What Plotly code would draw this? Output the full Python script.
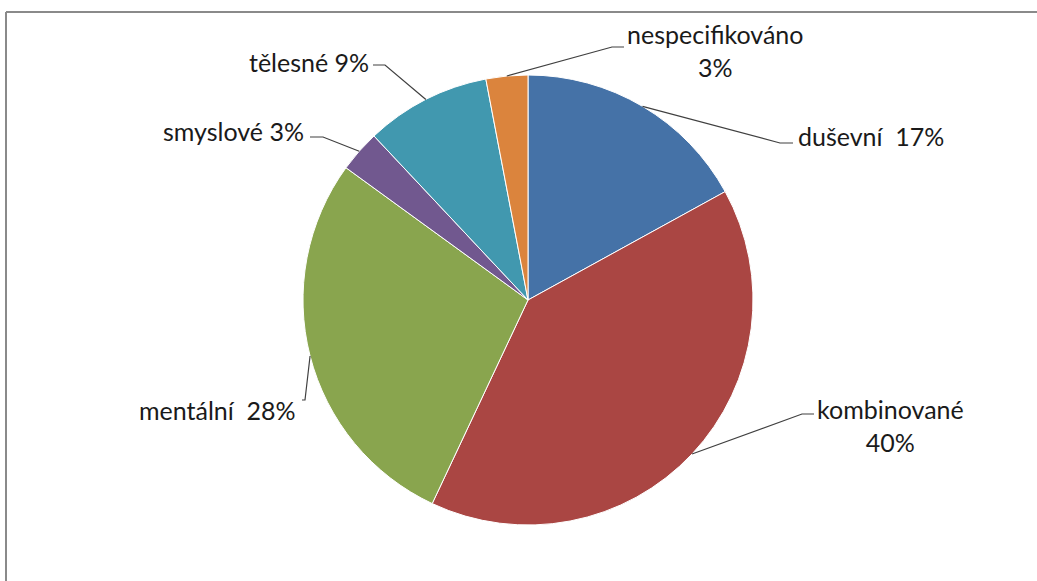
import math
import plotly.graph_objects as go

# ---- data ----
categories = ["duševní", "kombinované", "mentální", "smyslové", "tělesné", "nespecifikováno"]
values = [17, 40, 28, 3, 9, 3]
label_texts = [
    "duševní\u00a0\u00a017%",
    "kombinované<br>40%",
    "mentální\u00a0\u00a028%",
    "smyslové 3%",
    "tělesné 9%",
    "nespecifikováno<br>3%",
]
colors = ["#4572A7", "#AA4643", "#89A54E", "#71588F", "#4198AF", "#DB843D"]

# ---- layout constants (pixels) ----
W, H = 1037, 581
CX, CY, R = 528, 300, 225
FONT = dict(family="Lato, 'Open Sans', sans-serif", size=25, color="#1a1a1a")

# label placement: (elbow x, elbow y, end x, text x, text y, xanchor)
label_layout = [
    (780, 143, 793, 796, 136, "left"),
    (802, 414, 814, 890, 425, "center"),
    (305, 400, 302, 298, 410, "right"),
    (323, 137, 310, 306, 131, "right"),
    (385, 65, 373, 371, 62, "right"),
    (612, 47, 624, 715, 50, "center"),
]

def px(x):
    return x / W

def py(y):
    return 1 - y / H

fig = go.Figure(go.Pie(
    labels=categories,
    values=values,
    sort=False,
    direction="clockwise",
    rotation=0,
    textinfo="none",
    hoverinfo="label+percent",
    marker=dict(colors=colors, line=dict(color="white", width=1)),
    domain=dict(x=[px(CX - R), px(CX + R)], y=[py(CY + R), py(CY - R)]),
    showlegend=False,
))

shapes = []
annotations = []
total = sum(values)
cum = 0
for v, txt, (ex, ey, endx, tx, ty, xa) in zip(values, label_texts, label_layout):
    mid = (cum + v / 2) / total * 2 * math.pi
    cum += v
    sx = CX + R * math.sin(mid)
    sy = CY - R * math.cos(mid)
    path = f"M {px(sx)},{py(sy)} L {px(ex)},{py(ey)} L {px(endx)},{py(ey)}"
    shapes.append(dict(type="path", xref="paper", yref="paper", path=path,
                       line=dict(color="#404040", width=1.2)))
    annotations.append(dict(x=px(tx), y=py(ty), xref="paper", yref="paper",
                            text=txt, showarrow=False, xanchor=xa, yanchor="middle",
                            align="center", font=FONT))

# blank strip on the right (the frame continues beyond the picture)
shapes.append(dict(type="rect", xref="paper", yref="paper", layer="above",
                   x0=px(1000), y0=-0.05, x1=1.05, y1=1.05,
                   line=dict(width=0), fillcolor="white"))

# outer chart frame (only top and left edges fall inside the picture)
frame_line = dict(color="#8a8a8a", width=2)
shapes.append(dict(type="line", xref="paper", yref="paper",
                   x0=px(6), y0=py(12), x1=1.05, y1=py(12), line=frame_line))
shapes.append(dict(type="line", xref="paper", yref="paper",
                   x0=px(6), y0=py(12), x1=px(6), y1=-0.05, line=frame_line))

fig.update_layout(
    width=W, height=H,
    margin=dict(l=0, r=0, t=0, b=0),
    paper_bgcolor="white",
    plot_bgcolor="white",
    shapes=shapes,
    annotations=annotations,
    font=FONT,
)

fig.write_html(
    "out.html",
    config={"displayModeBar": False},
    post_script="document.body.style.margin='0';document.body.style.overflow='hidden';",
)
